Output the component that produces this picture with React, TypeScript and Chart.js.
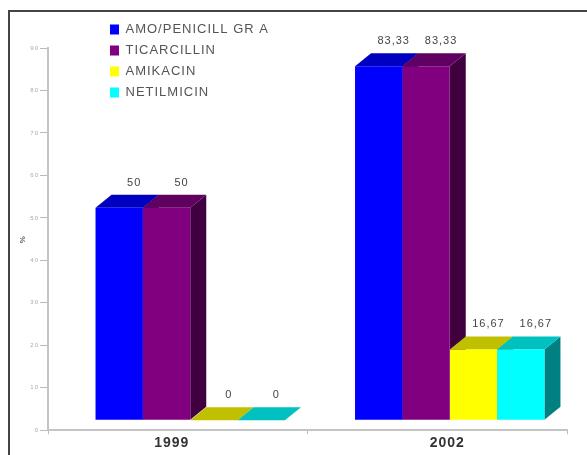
import React, { useEffect, useRef } from "react";
import { Chart, registerables } from "chart.js";

Chart.register(...registerables);

const categories = ["1999", "2002"];
const amoPenicillin = [50, 83.33];
const ticarcillin = [50, 83.33];
const amikacin = [0, 16.67];
const netilmicin = [0, 16.67];
const valueLabels = [
  ["50", "83,33"],
  ["50", "83,33"],
  ["0", "16,67"],
  ["0", "16,67"],
];
const seriesNames = ["AMO/PENICILL GR A", "TICARCILLIN", "AMIKACIN", "NETILMICIN"];
const frontColors = ["#0000ff", "#800080", "#ffff00", "#00ffff"];
const topColors = ["#0000c0", "#600060", "#c0c000", "#00c0c0"];
const sideColors = ["#000080", "#400040", "#808000", "#008080"];

const SHIFT_X = 12.5;
const SHIFT_Y = -10;
const DEPTH_X = 16;
const DEPTH_Y = -13;

const bars3d = {
  id: "bars3d",
  beforeDatasetsDraw(chart: any) {
    const { ctx } = chart;
    ctx.save();
    ctx.translate(SHIFT_X, SHIFT_Y);
    chart.data.datasets.forEach((_: any, d: number) => {
      chart.getDatasetMeta(d).data.forEach((bar: any) => {
        const { x, y, base, width } = bar.getProps(["x", "y", "base", "width"], true);
        const l = x - width / 2;
        const r = x + width / 2;
        ctx.fillStyle = sideColors[d];
        ctx.beginPath();
        ctx.moveTo(r, y);
        ctx.lineTo(r + DEPTH_X, y + DEPTH_Y);
        ctx.lineTo(r + DEPTH_X, base + DEPTH_Y);
        ctx.lineTo(r, base);
        ctx.closePath();
        ctx.fill();
        ctx.fillStyle = topColors[d];
        ctx.beginPath();
        ctx.moveTo(l, y);
        ctx.lineTo(l + DEPTH_X, y + DEPTH_Y);
        ctx.lineTo(r + DEPTH_X, y + DEPTH_Y);
        ctx.lineTo(r, y);
        ctx.closePath();
        ctx.fill();
      });
    });
  },
  afterDatasetsDraw(chart: any) {
    const { ctx } = chart;
    ctx.font = "11px 'Liberation Sans'";
    ctx.fillStyle = "#444444";
    ctx.textAlign = "center";
    ctx.textBaseline = "alphabetic";
    chart.data.datasets.forEach((_: any, d: number) => {
      chart.getDatasetMeta(d).data.forEach((bar: any, i: number) => {
        const { x, y } = bar.getProps(["x", "y"], true);
        ctx.fillText(valueLabels[d][i], x + 15, y + DEPTH_Y - 9);
      });
    });
    ctx.restore();
  },
};

const placement = {
  id: "placement",
  beforeDraw(chart: any) {
    chart.ctx.letterSpacing = "1px";
    const legend = chart.legend;
    const w = legend.width;
    const h = legend.height;
    legend.left = 102;
    legend.right = 102 + w + 40;
    legend.top = 15;
    legend.bottom = 15 + h;
    const items = chart.scales.x.getLabelItems();
    items.forEach((item: any, i: number) => {
      const t = item.options.translation;
      if (!item.shifted) {
        t[0] += i === 0 ? -6 : 10;
        item.shifted = true;
      }
    });
  },
};

export default function App() {
  const ref = useRef<HTMLCanvasElement>(null);
  useEffect(() => {
    const chart = new Chart(ref.current as HTMLCanvasElement, {
      type: "bar",
      data: {
        labels: categories,
        datasets: [amoPenicillin, ticarcillin, amikacin, netilmicin].map((data, i) => ({
          label: seriesNames[i],
          data,
          backgroundColor: frontColors[i],
          borderWidth: 0,
          categoryPercentage: 0.73,
          barPercentage: 1,
        })),
      },
      options: {
        animation: false,
        responsive: false,
        devicePixelRatio: 1,
        layout: { padding: { left: 18, top: 48, right: 20, bottom: 2 } },
        scales: {
          x: {
            grid: { display: true, drawOnChartArea: false, color: "#bbbbbb", tickLength: 4 },
            border: { color: "#c4c4c4", width: 2 },
            ticks: {
              color: "#333333",
              font: { family: "'Liberation Sans'", size: 14, weight: "bold" },
              padding: 1,
            },
          },
          y: {
            min: 0,
            max: 90,
            afterFit(scale: any) {
              scale.width = 30;
            },
            grid: { display: true, drawOnChartArea: false, color: "#bbbbbb", tickLength: 8 },
            border: { color: "#c4c4c4", width: 2 },
            ticks: {
              stepSize: 10,
              color: "#aaaaaa",
              font: { family: "'Liberation Sans'", size: 6 },
              padding: 1,
            },
            title: {
              display: true,
              text: "%",
              color: "#666666",
              font: { family: "'Liberation Sans'", size: 8, weight: "bold" },
              padding: 0,
            },
          },
        },
        plugins: {
          tooltip: { enabled: false },
          title: { display: false },
          legend: {
            position: "chartArea" as any,
            align: "start",
            labels: {
              boxWidth: 9,
              boxHeight: 10,
              padding: 8,
              color: "#555555",
              font: { family: "'Liberation Sans'", size: 13 },
            },
          },
        },
      },
      plugins: [bars3d, placement],
    } as any);
    return () => chart.destroy();
  }, []);
  return (
    <div style={{ position: "absolute", left: 0, top: 0, width: 587, height: 455, overflow: "hidden", background: "#fff" }}>
      <canvas
        ref={ref}
        width={587}
        height={455}
        style={{ position: "absolute", left: 0, top: 0, filter: "blur(0.7px)" }}
      />
      <div
        style={{
          position: "absolute",
          left: 8,
          top: 10,
          width: 579,
          height: 445,
          boxSizing: "border-box",
          borderLeft: "2px solid #444",
          borderTop: "2px solid #444",
        }}
      />
    </div>
  );
}
